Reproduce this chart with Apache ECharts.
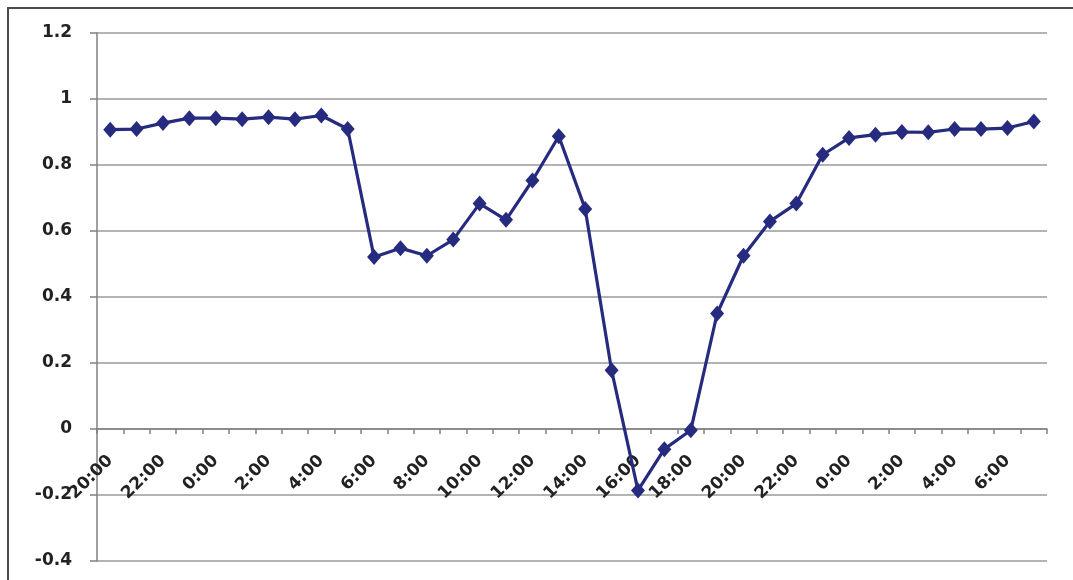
<!DOCTYPE html>
<html>
<head>
<meta charset="utf-8">
<script src="https://cdn.jsdelivr.net/npm/echarts@6/dist/echarts.min.js"></script>
<style>
html,body{margin:0;padding:0;background:#fff;}
#chart{width:1073px;height:580px;}
</style>
</head>
<body>
<div id="chart"></div>
<script>
// hourly categories (every second one is labelled)
const hours = ["20:00","21:00","22:00","23:00","0:00","1:00","2:00","3:00","4:00","5:00","6:00","7:00","8:00","9:00","10:00","11:00","12:00","13:00","14:00","15:00","16:00","17:00","18:00","19:00","20:00","21:00","22:00","23:00","0:00","1:00","2:00","3:00","4:00","5:00","6:00","7:00"];
const values = [0.907,0.909,0.927,0.942,0.942,0.939,0.945,0.939,0.950,0.909,0.521,0.548,0.525,0.574,0.683,0.634,0.753,0.887,0.667,0.178,-0.186,-0.061,-0.004,0.350,0.525,0.629,0.683,0.831,0.882,0.892,0.900,0.899,0.909,0.909,0.912,0.932];
const yMin = -0.4, yMax = 1.2, yStep = 0.2;

const gridTop = 33, gridBottom = 19, H = 580;
const plotH = H - gridTop - gridBottom;
// move the category axis up to the y = 0 line
const zeroOffset = -((0 - yMin) / (yMax - yMin)) * plotH;

const chart = echarts.init(document.getElementById('chart'));
const font = '"DejaVu Sans", Verdana, sans-serif';
chart.setOption({
  animation: false,
  backgroundColor: '#fff',
  grid: {left: 97, right: 26, top: gridTop, bottom: gridBottom, containLabel: false, outerBoundsMode: 'none'},
  graphic: [{
    type: 'rect', shape: {x: 8, y: 8, width: 1100, height: 600},
    style: {fill: 'none', stroke: '#4a4a4a', lineWidth: 2}, z: -1
  }],
  xAxis: {
    type: 'category', data: hours, boundaryGap: true, position: 'bottom', offset: zeroOffset,
    axisLine: {onZero: false, lineStyle: {color: '#808080', width: 1.5}},
    axisTick: {show: true, interval: 0, length: 5, lineStyle: {color: '#808080', width: 1.5}},
    axisLabel: {interval: 1, rotate: 45, margin: 29, fontSize: 17, fontWeight: 'bold', fontFamily: font, color: '#222'},
    splitLine: {show: false}
  },
  yAxis: {
    type: 'value', min: yMin, max: yMax, interval: yStep,
    axisLine: {show: true, lineStyle: {color: '#808080', width: 1.5}},
    axisTick: {show: true, length: 7, lineStyle: {color: '#808080', width: 1.5}},
    axisLabel: {margin: 25, fontSize: 17, fontWeight: 'bold', fontFamily: font, color: '#222'},
    splitLine: {show: true, lineStyle: {color: '#9a9a9a', width: 1.5}}
  },
  series: [{
    type: 'line', data: values,
    symbol: 'diamond', symbolSize: [14, 16],
    lineStyle: {color: '#262b7f', width: 3.2},
    itemStyle: {color: '#262b7f'}
  }]
});
</script>
</body>
</html>
